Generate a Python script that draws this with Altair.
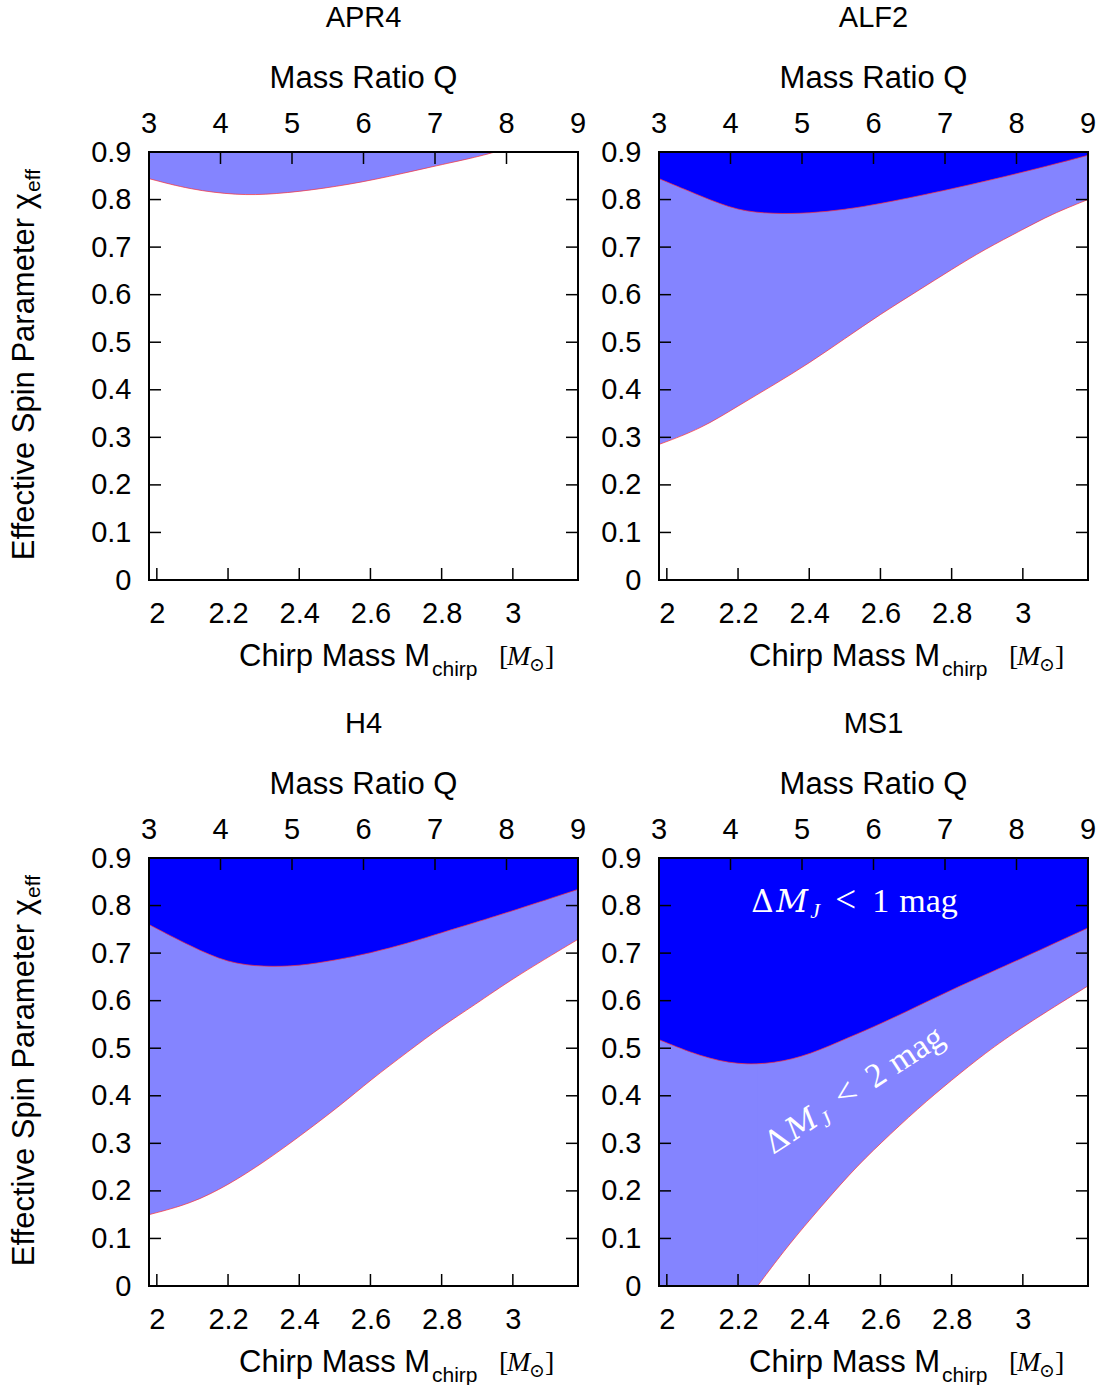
import altair as alt
import pandas as pd

# ---------------------------------------------------------------- axes
MC_DOMAIN = [1.978, 3.183]          # chirp mass range shown [M_sun]
Q_DOMAIN = [3, 9]                   # mass ratio range on the top axis
CHI_DOMAIN = [0.0, 0.9]             # effective spin range
MC_TICKS = [2.0, 2.2, 2.4, 2.6, 2.8, 3.0]
Q_TICKS = [3, 4, 5, 6, 7, 8, 9]
CHI_TICKS = [0.0, 0.1, 0.2, 0.3, 0.4, 0.5, 0.6, 0.7, 0.8, 0.9]

# ------------------------------------------------ boundaries per EOS
# lower boundary of the "Delta M_J < 2 mag" region
APR4_LOW_MC = [1.978, 2.094, 2.226, 2.329, 2.469, 2.610, 2.778, 2.891, 2.950]
APR4_LOW_CHI = [0.844, 0.821, 0.809, 0.811, 0.823, 0.841, 0.870, 0.888, 0.900]

ALF2_LOW_MC = [1.978, 2.096, 2.200, 2.302, 2.400, 2.499, 2.600, 2.705, 2.800, 2.892, 3.000, 3.080, 3.183]
ALF2_LOW_CHI = [0.285, 0.318, 0.366, 0.411, 0.456, 0.507, 0.559, 0.608, 0.653, 0.695, 0.737, 0.769, 0.800]
# lower boundary of the "Delta M_J < 1 mag" region
ALF2_UP_MC = [1.978, 2.096, 2.200, 2.300, 2.400, 2.500, 2.600, 2.800, 3.000, 3.183]
ALF2_UP_CHI = [0.844, 0.807, 0.776, 0.770, 0.771, 0.779, 0.791, 0.822, 0.857, 0.893]

H4_LOW_MC = [1.978, 2.096, 2.200, 2.302, 2.400, 2.518, 2.600, 2.706, 2.800, 2.893, 3.000, 3.183]
H4_LOW_CHI = [0.150, 0.173, 0.212, 0.261, 0.314, 0.381, 0.433, 0.493, 0.546, 0.591, 0.647, 0.729]
H4_UP_MC = [1.978, 2.096, 2.200, 2.302, 2.400, 2.500, 2.600, 2.706, 2.800, 2.893, 3.000, 3.183]
H4_UP_CHI = [0.760, 0.714, 0.679, 0.671, 0.673, 0.685, 0.700, 0.721, 0.743, 0.764, 0.789, 0.834]

# MS1: the 2-mag boundary enters through the bottom edge at chirp mass 2.255
MS1_LOW_MC = [2.255, 2.330, 2.400, 2.518, 2.600, 2.706, 2.800, 2.893, 3.000, 3.183]
MS1_LOW_CHI = [0.000, 0.075, 0.138, 0.240, 0.300, 0.374, 0.433, 0.489, 0.546, 0.631]
MS1_UP_MC = [1.978, 2.096, 2.200, 2.302, 2.400, 2.518, 2.600, 2.706, 2.800, 2.893, 3.000, 3.183]
MS1_UP_CHI = [0.518, 0.482, 0.465, 0.468, 0.486, 0.525, 0.551, 0.589, 0.623, 0.654, 0.690, 0.753]

# in-panel labels of the MS1 panel: anchor (chirp mass, chi) and rotation
NOTE_TEXT = ["1", "2"]
NOTE_MC = [2.237, 2.298]
NOTE_CHI = [0.787, 0.2755]
NOTE_ANGLE = [0, 327]

# ---------------------------------------------------------------- style
W, H = 429, 428
LIGHT = "#8484ff"
DARK = "#0000ff"
EDGE = "#ff3030"
SANS = "Liberation Sans"
SERIF = "Liberation Serif, DejaVu Serif"
WIDE_SERIF = "DejaVu Serif"
TICK = 12
CURVE = "basis"

# top axis is linear in Q across the same plot width
Q_TO_MC = "{0} + (datum.q - {1}) * {2}".format(
    MC_DOMAIN[0], Q_DOMAIN[0], (MC_DOMAIN[1] - MC_DOMAIN[0]) / (Q_DOMAIN[1] - Q_DOMAIN[0]))

AXIS_COMMON = dict(title=None, grid=False, ticks=False, tickSize=0, domain=False,
                   labelFlush=False, labelOverlap=False, format="~g")
AX_BOTTOM = alt.Axis(orient="bottom", values=MC_TICKS, labelPadding=19, **AXIS_COMMON)
AX_LEFT = alt.Axis(orient="left", values=CHI_TICKS, labelPadding=18, **AXIS_COMMON)


def mc_x():
    return alt.X("mc:Q", scale=alt.Scale(domain=MC_DOMAIN, nice=False, zero=False), axis=AX_BOTTOM)


def chi_y():
    return alt.Y("chi:Q", scale=alt.Scale(domain=CHI_DOMAIN, nice=False, zero=False), axis=AX_LEFT)


def text_at(text, x, y, size, font=SANS, style="normal", angle=0, align="left",
            dx=0, dy=0, color="black"):
    """A single piece of text placed in pixel coordinates of the panel."""
    props = dict(font=font, fontSize=size, fontStyle=style, align=align,
                 baseline="alphabetic", color=color, dx=dx, dy=dy)
    if angle:
        props["angle"] = angle
    return alt.Chart(pd.DataFrame({"t": [text]})).mark_text(**props).encode(
        x=alt.value(x), y=alt.value(y), text="t:N")


def frame_and_ticks():
    mc = pd.DataFrame({"mc": MC_TICKS})
    q = pd.DataFrame({"q": Q_TICKS})
    chi = pd.DataFrame({"chi": CHI_TICKS})
    rule = dict(color="black", strokeWidth=1.5)
    q_chart = alt.Chart(q).transform_calculate(mc=Q_TO_MC)
    return [
        # ticks pointing into the plot on all four sides
        alt.Chart(mc).mark_rule(**rule).encode(
            x=mc_x(), y=alt.value(H), y2=alt.value(H - TICK)),
        q_chart.mark_rule(**rule).encode(
            x=mc_x(), y=alt.value(0), y2=alt.value(TICK)),
        alt.Chart(chi).mark_rule(**rule).encode(
            y=chi_y(), x=alt.value(0), x2=alt.value(TICK)),
        alt.Chart(chi).mark_rule(**rule).encode(
            y=chi_y(), x=alt.value(W), x2=alt.value(W - TICK)),
        # mass-ratio labels along the top edge
        q_chart.mark_text(font=SANS, fontSize=29, baseline="alphabetic", align="center",
                          color="black").encode(
            x=mc_x(), y=alt.value(-19), text="q:N"),
        # plot frame
        alt.Chart(pd.DataFrame({"f": [0]})).mark_rect(
            filled=False, stroke="black", strokeWidth=2).encode(
            x=alt.value(0), x2=alt.value(W), y=alt.value(0), y2=alt.value(H)),
    ]


def titles(name, y_title):
    out = [
        text_at(name, W / 2, -125, 29, align="center"),
        text_at("Mass Ratio Q", W / 2, -64, 31, align="center"),
        # Chirp Mass M_chirp [M_sun]
        text_at("Chirp Mass M", 90, H + 86, 31),
        text_at("chirp", 283, H + 96, 21),
        text_at("[", 350, H + 85, 28, font=SERIF),
        text_at("M", 358, H + 85, 28, font=SERIF, style="italic"),
        text_at("\u2299", 380, H + 91, 19, font=SERIF),
        text_at("]", 396, H + 85, 28, font=SERIF),
    ]
    if y_title:
        out += [
            text_at("Effective Spin Parameter \u03c7", -115, 41, 31, angle=270, align="right"),
            text_at("eff", -115, 41, 21, angle=270, align="left", dx=1, dy=6),
        ]
    return out


def notes():
    out = []

    def pieces(n):
        # (text, offset along baseline, offset below baseline, size, font, style)
        return [("\u0394", 0, 0, 31, WIDE_SERIF, "normal"),
                ("M", 25, 0, 31, WIDE_SERIF, "italic"),
                ("J", 59, 6, 22, SERIF, "italic"),
                ("<", 84, 0, 37, SERIF, "normal"),
                (n, 121, 0, 34, SERIF, "normal"),
                ("mag", 148, 0, 34, SERIF, "normal")]

    for text, mc, chi, ang in zip(NOTE_TEXT, NOTE_MC, NOTE_CHI, NOTE_ANGLE):
        df = pd.DataFrame({"mc": [mc], "chi": [chi]})
        for piece, dx, dy, size, font, style in pieces(text):
            props = dict(font=font, fontSize=size, fontStyle=style, align="left",
                         baseline="alphabetic", color="white", dx=dx, dy=dy)
            if ang:
                props["angle"] = ang
            out.append(alt.Chart(df).mark_text(**props).encode(
                x=mc_x(), y=chi_y(), text=alt.value(piece)))
    return out


def band(df, color, interpolate, **extra):
    return (alt.Chart(df).mark_area(color=color, interpolate=interpolate, clip=True, **extra)
            .encode(x=mc_x(), y=chi_y(), y2="top:Q"))


def panel(name, low_mc, low_chi, up_mc=None, up_chi=None, y_title=False, with_notes=False):
    top = CHI_DOMAIN[1]
    low = pd.DataFrame({"mc": low_mc, "chi": low_chi, "top": top})
    layers = []
    if low_mc[0] > MC_DOMAIN[0]:
        # boundary lies below the plot left of its first point: fill the full height
        left = pd.DataFrame({"mc": [MC_DOMAIN[0], low_mc[0]],
                             "chi": [CHI_DOMAIN[0], CHI_DOMAIN[0]], "top": top})
        layers.append(band(left, LIGHT, "linear", stroke=LIGHT, strokeWidth=1.2))
    layers.append(band(low, LIGHT, CURVE))
    curves = [low]
    if up_mc is not None:
        up = pd.DataFrame({"mc": up_mc, "chi": up_chi, "top": top})
        layers.append(band(up, DARK, CURVE))
        curves.append(up)
    for df in curves:
        layers.append(alt.Chart(df).mark_line(color=EDGE, strokeWidth=0.7,
                                              interpolate=CURVE, clip=True)
                      .encode(x=mc_x(), y=chi_y()))
    if with_notes:
        layers += notes()
    layers += frame_and_ticks()
    layers += titles(name, y_title)
    return alt.layer(*layers).properties(width=W, height=H)


chart = alt.concat(
    panel("APR4", APR4_LOW_MC, APR4_LOW_CHI, y_title=True),
    panel("ALF2", ALF2_LOW_MC, ALF2_LOW_CHI, ALF2_UP_MC, ALF2_UP_CHI),
    panel("H4", H4_LOW_MC, H4_LOW_CHI, H4_UP_MC, H4_UP_CHI, y_title=True),
    panel("MS1", MS1_LOW_MC, MS1_LOW_CHI, MS1_UP_MC, MS1_UP_CHI, with_notes=True),
    columns=2,
    spacing={"row": 278, "column": 81},
    bounds="flush",
).properties(
    padding={"left": 9, "top": 4, "right": 5, "bottom": 5},
    background="white",
).configure_view(
    strokeWidth=0
).configure_axis(
    labelFont=SANS, labelFontSize=29, labelColor="black"
)

chart.save("out.html", embed_options={"renderer": "svg", "actions": False})
